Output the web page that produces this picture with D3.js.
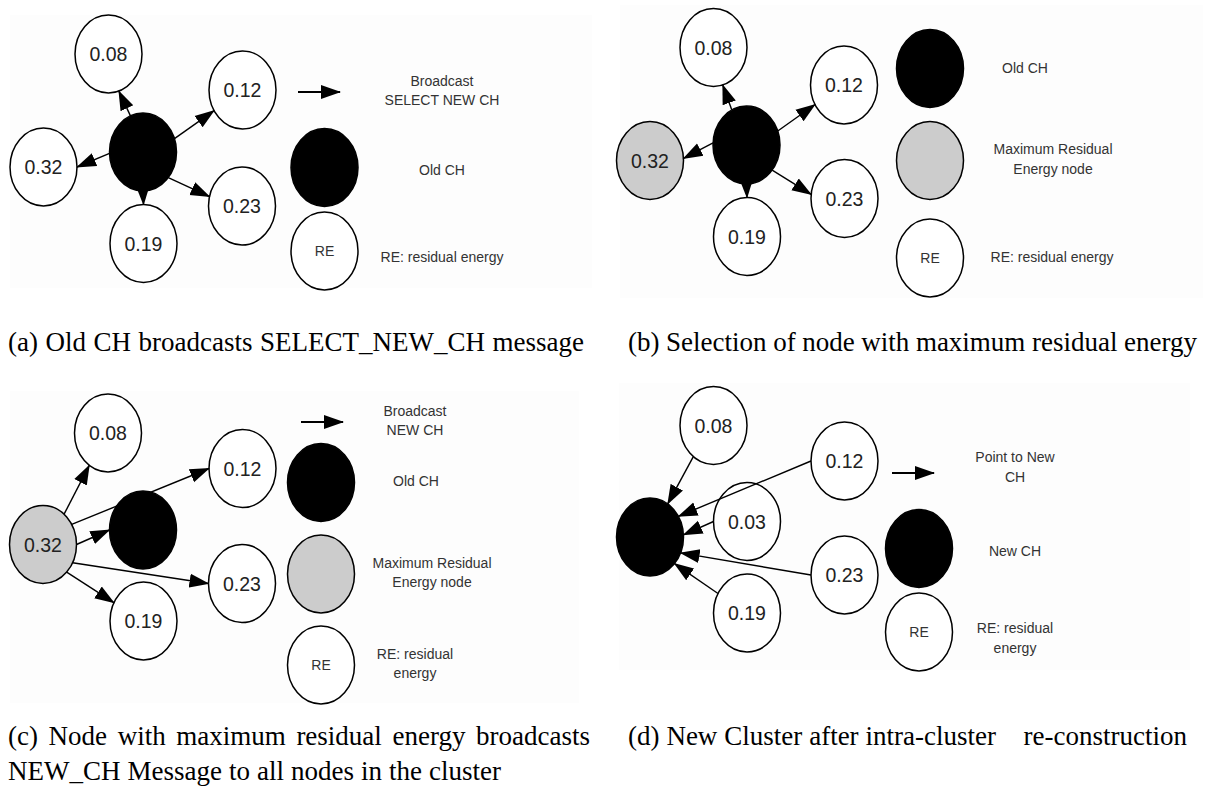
<!DOCTYPE html>
<html><head><meta charset="utf-8">
<script src="https://cdn.jsdelivr.net/npm/d3@7"></script>
<style>body{margin:0;background:#fff}svg{display:block}</style>
</head><body>
<svg id="chart" width="1211" height="794"></svg>
<script>
// ---------------- data ----------------
const panelIds = ["a", "b", "c", "d"];
const captionsA = ["(a) Old CH broadcasts SELECT_NEW_CH message"];
const captionsB = ["(b) Selection of node with maximum residual energy"];
const captionsC = ["(c) Node with maximum residual energy broadcasts", "NEW_CH Message to all nodes in the cluster"];
const captionsD = ["(d) New Cluster after intra-cluster    re-construction"];

// residual energy labels of the nodes ("" = cluster head, drawn black)
const labelsA = ["0.08", "0.12", "", "0.32", "0.23", "0.19"];
const labelsB = ["0.08", "0.12", "", "0.32", "0.23", "0.19"];
const labelsC = ["0.08", "0.12", "", "0.32", "0.23", "0.19"];
const labelsD = ["0.08", "0.12", "", "0.03", "0.23", "0.19"];
const rolesA = ["member", "member", "ch", "member", "member", "member"];
const rolesB = ["member", "member", "ch", "maxre", "member", "member"];
const rolesC = ["member", "member", "ch", "maxre", "member", "member"];
const rolesD = ["member", "member", "ch", "member", "member", "member"];

// edges: [source index, target index]
const edgesA = [[2, 0], [2, 1], [2, 3], [2, 4], [2, 5]];
const edgesB = [[2, 0], [2, 1], [2, 3], [2, 4], [2, 5]];
const edgesC = [[3, 0], [3, 1], [3, 2], [3, 4], [3, 5]];
const edgesD = [[0, 2], [1, 2], [3, 2], [4, 2], [5, 2]];

// legend entries: [symbol, text lines]
const legendA = [["arrow", ["Broadcast", "SELECT NEW CH"]], ["ch", ["Old CH"]], ["re", ["RE: residual energy"]]];
const legendB = [["ch", ["Old CH"]], ["maxre", ["Maximum Residual", "Energy node"]], ["re", ["RE: residual energy"]]];
const legendC = [["arrow", ["Broadcast", "NEW CH"]], ["ch", ["Old CH"]], ["maxre", ["Maximum Residual", "Energy node"]], ["re", ["RE: residual", "energy"]]];
const legendD = [["arrow", ["Point to New", "CH"]], ["ch", ["New CH"]], ["re", ["RE: residual", "energy"]]];

// ---------------- layout (panel-local units) ----------------
const panelOrigin = {a: [0, 0], b: [600, 0], c: [0, 380], d: [600, 380]};
const panelBg = {a: [10, 15, 592, 288], b: [20, 5, 603, 298], c: [10, 11, 579, 323], d: [19, 3, 590, 290]};
const nodePosA = [[108.5, 54], [242.5, 90], [143, 152], [43.5, 167], [242, 206], [143.5, 243.5]];
const nodePosB = [[113.5, 47.5], [244, 85], [146.5, 145], [50, 160.5], [244.5, 198.5], [147, 236.5]];
const nodePosC = [[108, 53], [242.5, 88.5], [143, 150], [43, 164.5], [242, 203.5], [143.5, 241]];
const nodePosD = [[113.5, 45.5], [244.5, 81], [50, 157], [147, 141.5], [244.5, 195], [147, 233]];
// connection port angles (deg) on source / target ellipse
const portsA = [[-112, 72], [-20, 148], [178, 0], [41, 194], [90, -90]];
const portsB = [[-116, 74], [-21, 150], [183, -3], [40, 186], [90, -90]];
const portsC = [[-51, 124], [-31, 180], [0, 180], [28, 180], [45, 208]];
const portsD = [[127, -58], [180, -32], [180, -3], [180, 24], [210, 43]];
// legend symbol position [x, y] and text [x, y(center of block)]
const legendPosA = [[319, 92, 442, 90.5], [324.5, 167.5, 442, 170], [324.5, 251, 442, 257]];
const legendPosB = [[330, 68.5, 425, 68], [330, 160.5, 453, 159], [330, 258, 452, 257]];
const legendPosC = [[322, 42, 415, 40.5], [321, 102.5, 416, 101], [321, 194, 432, 192.5], [321, 285, 415, 283.5]];
const legendPosD = [[313, 93, 415, 87], [319, 168.5, 415, 171], [319, 252, 415, 258]];
const captionPos = {a: [[8, 584, 351]], b: [[628, 1197, 351]], c: [[8, 590, 745], [8, 501, 780]], d: [[628, 1187, 745]]};

const RX = 33.5, RY = 39;
const fills = {member: "#ffffff", ch: "#000000", maxre: "#cccccc", re: "#ffffff"};

const panels = {
  a: {labels: labelsA, roles: rolesA, edges: edgesA, legend: legendA, pos: nodePosA, ports: portsA, lpos: legendPosA, cap: captionsA},
  b: {labels: labelsB, roles: rolesB, edges: edgesB, legend: legendB, pos: nodePosB, ports: portsB, lpos: legendPosB, cap: captionsB},
  c: {labels: labelsC, roles: rolesC, edges: edgesC, legend: legendC, pos: nodePosC, ports: portsC, lpos: legendPosC, cap: captionsC},
  d: {labels: labelsD, roles: rolesD, edges: edgesD, legend: legendD, pos: nodePosD, ports: portsD, lpos: legendPosD, cap: captionsD}
};

// ---------------- drawing ----------------
const svg = d3.select("#chart");
svg.append("defs").append("marker")
  .attr("id", "ah").attr("markerUnits", "userSpaceOnUse")
  .attr("viewBox", "0 -8 20 16").attr("refX", 19).attr("refY", 0)
  .attr("markerWidth", 20).attr("markerHeight", 16).attr("orient", "auto")
  .append("path").attr("d", "M0,-7L20,0L0,7Z").attr("fill", "#000");

const rad = d => d * Math.PI / 180;

panelIds.forEach(id => {
  const p = panels[id];
  const [ox, oy] = panelOrigin[id];
  const x = d3.scaleLinear().domain([0, 600]).range([ox, ox + 600]);
  const y = d3.scaleLinear().domain([0, 380]).range([oy, oy + 380]);
  const g = svg.append("g").attr("class", "panel-" + id);
  const bg = panelBg[id];
  g.append("rect").attr("x", x(bg[0])).attr("y", y(bg[1]))
    .attr("width", x(bg[2]) - x(bg[0])).attr("height", y(bg[3]) - y(bg[1]))
    .attr("fill", "#fdfdfd");

  const nodes = p.labels.map((l, i) => ({label: l, role: p.roles[i], cx: x(p.pos[i][0]), cy: y(p.pos[i][1])}));

  // nodes
  const ng = g.selectAll("g.node").data(nodes).join("g").attr("class", "node");
  ng.append("ellipse").attr("cx", d => d.cx).attr("cy", d => d.cy)
    .attr("rx", RX).attr("ry", RY)
    .attr("fill", d => fills[d.role]).attr("stroke", "#000").attr("stroke-width", 1.5);
  ng.append("text").attr("x", d => d.cx).attr("y", d => d.cy).attr("dy", "0.36em")
    .attr("text-anchor", "middle").attr("font-family", "Liberation Sans, Arial, sans-serif")
    .attr("font-size", 19.5).attr("fill", "#222").text(d => d.label);

  // edges
  const edges = p.edges.map((e, i) => {
    const s = nodes[e[0]], t = nodes[e[1]];
    const [a0, a1] = p.ports[i];
    return {x1: s.cx + RX * Math.cos(rad(a0)), y1: s.cy + RY * Math.sin(rad(a0)),
            x2: t.cx + RX * Math.cos(rad(a1)), y2: t.cy + RY * Math.sin(rad(a1))};
  });
  g.selectAll("line.edge").data(edges).join("line").attr("class", "edge")
    .attr("x1", d => d.x1).attr("y1", d => d.y1).attr("x2", d => d.x2).attr("y2", d => d.y2)
    .attr("stroke", "#000").attr("stroke-width", 1.4).attr("marker-end", "url(#ah)");

  // legend
  p.legend.forEach((item, i) => {
    const [sx, sy, tx, ty] = p.lpos[i];
    const kind = item[0];
    if (kind === "arrow") {
      g.append("line").attr("x1", x(sx - 21)).attr("x2", x(sx + 21)).attr("y1", y(sy)).attr("y2", y(sy))
        .attr("stroke", "#000").attr("stroke-width", 2).attr("marker-end", "url(#ah)");
    } else {
      g.append("ellipse").attr("cx", x(sx)).attr("cy", y(sy)).attr("rx", RX).attr("ry", RY)
        .attr("fill", fills[kind]).attr("stroke", "#000").attr("stroke-width", 1.5);
      if (kind === "re") {
        g.append("text").attr("x", x(sx)).attr("y", y(sy)).attr("dy", "0.36em").attr("text-anchor", "middle")
          .attr("font-family", "Liberation Sans, Arial, sans-serif").attr("font-size", 14).attr("fill", "#333").text("RE");
      }
    }
    const lines = item[1];
    const lh = 19.5;
    lines.forEach((ln, j) => {
      g.append("text").attr("x", x(tx)).attr("y", y(ty + (j - (lines.length - 1) / 2) * lh)).attr("dy", "0.36em")
        .attr("text-anchor", "middle").attr("font-family", "Liberation Sans, Arial, sans-serif")
        .attr("font-size", 14).attr("fill", "#333").text(ln);
    });
  });

  // captions
  p.cap.forEach((c, j) => {
    const [x0, x1, by] = captionPos[id][j];
    const t = svg.append("text").attr("x", x0).attr("y", by)
      .attr("font-family", "Liberation Serif, Times New Roman, serif").attr("font-size", 27)
      .attr("fill", "#000").style("white-space", "pre").text(c);
    const w = t.node().getComputedTextLength();
    const spaces = (c.match(/ /g) || []).length;
    if (spaces > 0) t.attr("word-spacing", (x1 - x0 - w) / spaces);
  });
});
</script>
</body></html>
